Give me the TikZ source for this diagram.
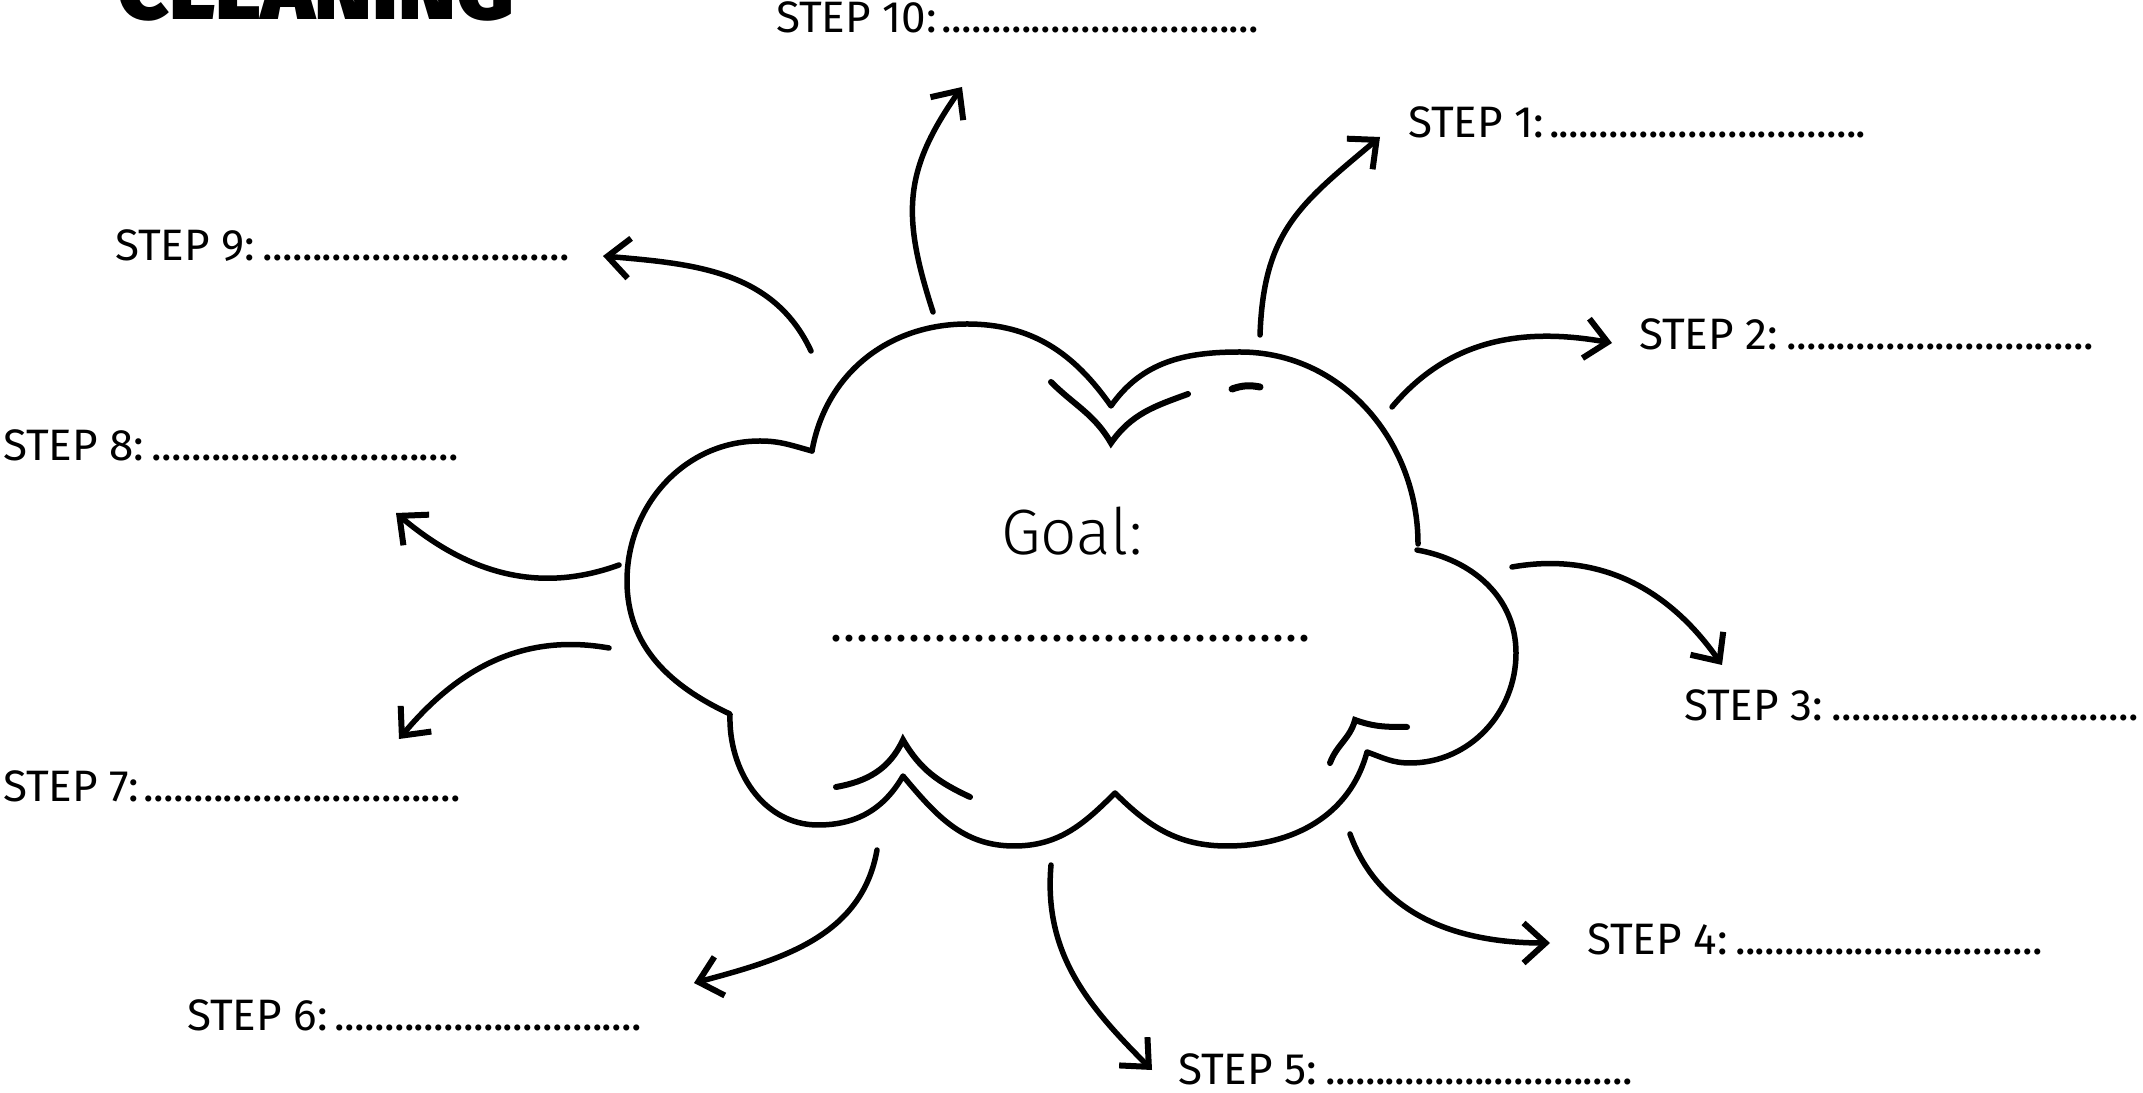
\documentclass[tikz,border=0pt]{standalone}
\usepackage{fontspec}
\usepackage{graphicx}
\setmainfont{Fira Sans}
\newfontfamily\goallight{Fira Sans Light}
\newfontfamily\titleheavy{Fira Sans Black}
\usetikzlibrary{arrows.meta}
\newcommand\stepdots{\cleaders\hbox to 9.9pt{\hss.\hss}\hfill}
\newcommand\goaldots{\cleaders\hbox to 13pt{\hss.\hss}\hfill}
\begin{document}
\begin{tikzpicture}[x=1pt,y=1pt,
  arr/.style={line width=5.5pt, line cap=round, -{Straight Barb[length=22pt,width=40pt,line width=6pt]}},
  cloudline/.style={line width=5.5pt, line join=round, line cap=round},
  sketchline/.style={line width=6pt, line cap=round},
  steplbl/.style={anchor=base west, inner sep=0pt, font=\fontsize{44}{52}\selectfont}
]
\useasboundingbox (0,0) rectangle (2143,1092);
\fill[white] (0,0) rectangle (2143,1092);

% title
\node[anchor=base west, inner sep=0pt] (title) at (117,1072) {\resizebox{397pt}{!}{\titleheavy CLEANING}};

% cloud
\draw[cloudline] (812,641) to[out=80,in=180] (967,768) to[out=0,in=125] (1111,686)
  to[out=55,in=180] (1240,740) to[out=0,in=90] (1418,548);
\draw[cloudline] (1417,542) to[out=-10,in=90] (1516,439) to[out=-90,in=0] (1410,329) to[out=180,in=-20] (1367,340)
  to[out=-105,in=0] (1227,246) to[out=180,in=-45] (1115,299)
  to[out=-135,in=0] (1014,246) to[out=180,in=-50] (903,316)
  to[out=-120,in=0] (818,267) to[out=180,in=-92] (730,378)
  to[out=155,in=-90] (627,511) to[out=90,in=180] (760,651) to[out=0,in=165] (812,641);

% sketch strokes
\draw[sketchline] (1051,710) to[out=-45,in=120] (1111,649) to[out=55,in=200] (1188,698);
\draw[line width=7pt, line cap=round] (1232,703) to[bend left=15] (1260,705);
\draw[sketchline] (836,305) to[out=10,in=-115] (903,352) to[out=-60,in=155] (970,295);
\draw[sketchline] (1330,329) to[out=70,in=-105] (1355,372) to[out=-20,in=180] (1407,365);

% goal
\node[anchor=base west, inner sep=0pt, font=\goallight\fontsize{64}{72}\selectfont] (goal) at (1001,537) {Goal:};
\node[anchor=base west, inner sep=0pt, font=\fontsize{50}{60}\selectfont] (goalline) at (826,450) {\makebox[488pt][l]{\goaldots}};

% step labels
\node[steplbl] (s10) at (776,1059) {\makebox[484pt][l]{STEP 10:\hskip 4pt\stepdots}};
\node[steplbl] (s1) at (1408,954) {\makebox[459pt][l]{STEP 1:\hskip 4pt\stepdots}};
\node[steplbl] (s2) at (1639,742) {\makebox[459pt][l]{STEP 2:\hskip 4pt\stepdots}};
\node[steplbl] (s3) at (1684,371) {\makebox[459pt][l]{STEP 3:\hskip 4pt\stepdots}};
\node[steplbl] (s4) at (1587,137) {\makebox[459pt][l]{STEP 4:\hskip 4pt\stepdots}};
\node[steplbl] (s5) at (1178,8) {\makebox[459pt][l]{STEP 5:\hskip 4pt\stepdots}};
\node[steplbl] (s6) at (187,62) {\makebox[458pt][l]{STEP 6:\hskip 4pt\stepdots}};
\node[steplbl] (s7) at (3,290) {\makebox[459pt][l]{STEP 7:\hskip 4pt\stepdots}};
\node[steplbl] (s8) at (3,631) {\makebox[459pt][l]{STEP 8:\hskip 4pt\stepdots}};
\node[steplbl] (s9) at (115,831) {\makebox[458pt][l]{STEP 9:\hskip 4pt\stepdots}};

% arrow end points
\coordinate (t10) at (933,780);  \coordinate (h10) at (962,1005);
\coordinate (t1) at (1260,757);  \coordinate (h1) at (1380,955);
\coordinate (t2) at (1392,685);  \coordinate (h2) at (1612,749);
\coordinate (t3) at (1512,525);  \coordinate (h3) at (1722,427);
\coordinate (t4) at (1350,258);  \coordinate (h4) at (1550,149);
\coordinate (t5) at (1051,227);  \coordinate (h5) at (1152,22);
\coordinate (t6) at (877,242);   \coordinate (h6) at (694,109);
\coordinate (t7) at (609,444);   \coordinate (h7) at (399,353);
\coordinate (t8) at (619,527);   \coordinate (h8) at (396,579);
\coordinate (t9) at (811,741);   \coordinate (h9) at (603,836);

\draw[arr] (t10) to[out=108,in=-125,looseness=1.15] (h10);
\draw[arr] (t1) to[out=88,in=-140,looseness=1.15] (h1);
\draw[arr] (t2) to[out=50,in=170] (h2);
\draw[arr] (t3) to[out=10,in=125] (h3);
\draw[arr] (t4) to[out=-70,in=180] (h4);
\draw[arr] (t5) to[out=-95,in=135] (h5);
\draw[arr] (t6) to[out=-100,in=15] (h6);
\draw[arr] (t7) to[out=170,in=50] (h7);
\draw[arr] (t8) to[out=200,in=-40] (h8);
\draw[arr] (t9) to[out=115,in=-5] (h9);
\end{tikzpicture}
\end{document}
